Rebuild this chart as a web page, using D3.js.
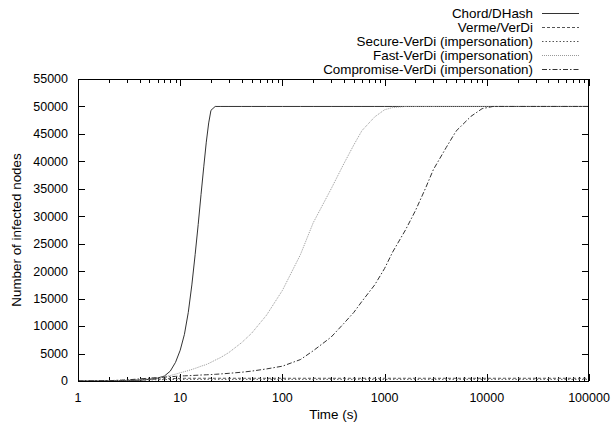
<!DOCTYPE html>
<meta charset="utf-8">
<style>
    body { margin: 0; background: #fff; }
    svg { display: block; font-family: "Liberation Sans", Arial, sans-serif; }
    .tick-label { font-size: 12.5px; fill: #000; }
    .title-label { font-size: 13.4px; fill: #000; }
</style>
<body>
<svg width="615" height="423"></svg>
<script src="https://d3js.org/d3.v7.min.js"></script>
<script>
    // time (s) values, shared by every series
    const times = [1, 2, 3, 4, 5, 6, 7, 8, 9, 10, 11, 12, 13, 14, 15, 16, 17, 18, 19, 20, 22, 25,
        30, 40, 50, 70, 100, 150, 200, 300, 400, 500, 600, 800, 1000, 1200, 1600,
        2000, 2500, 3000, 4000, 5000, 7000, 9000, 11500, 15000, 100000];

    const chordValues = [0, 20, 60, 150, 300, 520, 900, 1800, 3400, 5600, 8500, 12500, 17500, 23000, 28500, 34000, 39000, 43500, 47000, 49300, 50000, 50000,
        50000, 50000, 50000, 50000, 50000, 50000, 50000, 50000, 50000, 50000, 50000, 50000, 50000, 50000, 50000,
        50000, 50000, 50000, 50000, 50000, 50000, 50000, 50000, 50000, 50000];

    const vermeValues = [0, 40, 110, 200, 280, 340, 390, 430, 460, 480, 490, 500, 500, 500, 500, 500, 500, 500, 500, 500, 500, 500,
        500, 500, 500, 500, 500, 500, 500, 500, 500, 500, 500, 500, 500, 500, 500,
        500, 500, 500, 500, 500, 500, 500, 500, 500, 500];

    const secureValues = [0, 30, 80, 140, 200, 240, 260, 280, 290, 300, 300, 300, 300, 300, 300, 300, 300, 300, 300, 300, 300, 300,
        300, 300, 300, 300, 300, 300, 300, 300, 300, 300, 300, 300, 300, 300, 300,
        300, 300, 300, 300, 300, 300, 300, 300, 300, 300];

    const fastValues = [0, 60, 170, 300, 430, 600, 800, 1000, 1250, 1500, 1700, 1900, 2100, 2300, 2500, 2700, 2850, 3000, 3200, 3400, 3800, 4300,
        5200, 7000, 8700, 12000, 16500, 23000, 28800, 35000, 39600, 43000, 45600, 48100, 49400, 49800, 50000,
        50000, 50000, 50000, 50000, 50000, 50000, 50000, 50000, 50000, 50000];

    const compromiseValues = [0, 60, 200, 380, 520, 620, 700, 780, 840, 900, 940, 970, 1000, 1030, 1060, 1090, 1110, 1130, 1150, 1170, 1220, 1290,
        1400, 1600, 1800, 2200, 2700, 3900, 5500, 8000, 10500, 12500, 14500, 17500, 20500, 23500, 27500,
        31000, 35000, 38500, 42500, 45500, 48200, 49600, 50000, 50000, 50000];

    const seriesNames = ["Chord/DHash", "Verme/VerDi", "Secure-VerDi (impersonation)", "Fast-VerDi (impersonation)", "Compromise-VerDi (impersonation)"];
    const seriesValues = [chordValues, vermeValues, secureValues, fastValues, compromiseValues];

    const xTickValues = [1, 10, 100, 1000, 10000, 100000];
    const yTickValues = [0, 5000, 10000, 15000, 20000, 25000, 30000, 35000, 40000, 45000, 50000, 55000];

    const seriesStyles = [
        { stroke: "#333", dash: null, width: 1 },
        { stroke: "#555", dash: "3,2", width: 1 },
        { stroke: "#555", dash: "1.5,2", width: 1 },
        { stroke: "#999", dash: "1,1", width: 1 },
        { stroke: "#333", dash: "5,2,1.5,2", width: 1 }
    ];

    const svg = d3.select("svg");
    const margin = { top: 79, right: 26, bottom: 42, left: 78 };
    const width = +svg.attr("width");
    const height = +svg.attr("height");

    const x = d3.scaleLog()
        .domain([1, 100000])
        .range([margin.left, width - margin.right]);

    const y = d3.scaleLinear()
        .domain([0, 55000])
        .range([height - margin.bottom, margin.top]);

    const x0 = margin.left, x1 = width - margin.right;
    const y0 = height - margin.bottom, y1 = margin.top;

    // ticks (pointing inward, on all four sides)
    const tickG = svg.append("g").attr("stroke", "#000").attr("stroke-width", 1);
    const minorTicks = [];
    for (let d = 1; d < 100000; d *= 10) {
        for (let k = 2; k <= 9; k++) minorTicks.push(d * k);
    }
    minorTicks.forEach(v => {
        const px = Math.round(x(v)) + 0.5;
        tickG.append("line").attr("x1", px).attr("x2", px).attr("y1", y0).attr("y2", y0 - 4);
        tickG.append("line").attr("x1", px).attr("x2", px).attr("y1", y1).attr("y2", y1 + 4);
    });
    xTickValues.forEach(v => {
        const px = Math.round(x(v)) + 0.5;
        tickG.append("line").attr("x1", px).attr("x2", px).attr("y1", y0).attr("y2", y0 - 7);
        tickG.append("line").attr("x1", px).attr("x2", px).attr("y1", y1).attr("y2", y1 + 7);
    });
    yTickValues.forEach(v => {
        const py = Math.round(y(v)) + 0.5;
        tickG.append("line").attr("x1", x0).attr("x2", x0 + 7).attr("y1", py).attr("y2", py);
        tickG.append("line").attr("x1", x1).attr("x2", x1 - 7).attr("y1", py).attr("y2", py);
    });

    // tick labels
    svg.append("g").selectAll("text")
        .data(yTickValues)
        .join("text")
        .attr("class", "tick-label")
        .attr("x", x0 - 10)
        .attr("y", d => y(d))
        .attr("dy", "0.35em")
        .attr("text-anchor", "end")
        .text(d => d);

    svg.append("g").selectAll("text")
        .data(xTickValues)
        .join("text")
        .attr("class", "tick-label")
        .attr("x", d => x(d))
        .attr("y", y0 + 17)
        .attr("dy", "0.35em")
        .attr("text-anchor", "middle")
        .text(d => d);

    // axis titles
    svg.append("text")
        .attr("class", "title-label")
        .attr("x", (x0 + x1) / 2)
        .attr("y", y0 + 33)
        .attr("dy", "0.35em")
        .attr("text-anchor", "middle")
        .text("Time (s)");

    svg.append("text")
        .attr("class", "title-label")
        .attr("transform", `translate(16,${(y0 + y1) / 2}) rotate(-90)`)
        .attr("dy", "0.35em")
        .attr("text-anchor", "middle")
        .text("Number of infected nodes");

    // series lines
    const line = d3.line()
        .x(d => x(d[0]))
        .y(d => y(d[1]));

    svg.append("clipPath").attr("id", "plot-clip")
        .append("rect").attr("x", x0).attr("y", y1).attr("width", x1 - x0).attr("height", y0 - y1);

    const linesG = svg.append("g").attr("clip-path", "url(#plot-clip)");
    seriesValues.forEach((vals, i) => {
        const pts = times.map((t, j) => [t, vals[j]]);
        const st = seriesStyles[i];
        linesG.append("path")
            .datum(pts)
            .attr("fill", "none")
            .attr("stroke", st.stroke)
            .attr("stroke-width", st.width)
            .attr("stroke-dasharray", st.dash)
            .attr("d", line);
    });

    // frame
    svg.append("rect")
        .attr("x", x0 + 0.5)
        .attr("y", y1 + 0.5)
        .attr("width", x1 - x0 - 1)
        .attr("height", y0 - y1)
        .attr("fill", "none")
        .attr("stroke", "#000")
        .attr("stroke-width", 1);

    // legend
    const legend = svg.append("g");
    seriesNames.forEach((name, i) => {
        const ly = 13 + i * 14;
        const st = seriesStyles[i];
        legend.append("text")
            .attr("class", "title-label")
            .attr("x", 533)
            .attr("y", ly)
            .attr("dy", "0.35em")
            .attr("text-anchor", "end")
            .text(name);
        legend.append("line")
            .attr("x1", 542).attr("x2", 579)
            .attr("y1", ly + 0.5).attr("y2", ly + 0.5)
            .attr("stroke", st.stroke)
            .attr("stroke-width", st.width)
            .attr("stroke-dasharray", st.dash);
    });
</script>
</body>
